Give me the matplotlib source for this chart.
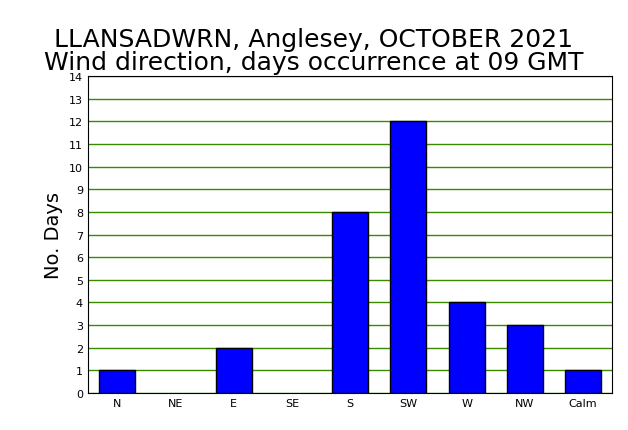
import matplotlib
matplotlib.use("Agg")
import matplotlib.pyplot as plt

categories = ["N", "NE", "E", "SE", "S", "SW", "W", "NW", "Calm"]
days = [1, 0, 2, 0, 8, 12, 4, 3, 1]
yticks = list(range(0, 15))

fig = plt.figure(figsize=(6.28, 4.31), dpi=100)
ax = fig.add_axes([0.140, 0.086, 0.835, 0.735])
ax.set_axisbelow(True)
ax.yaxis.grid(True, color="#3a8a00", linewidth=1)
xs = [i for i, d in enumerate(days) if d > 0]
ax.bar(xs, [days[i] for i in xs], width=0.62, color="#0000ff", edgecolor="black", linewidth=1)
ax.set_xlim(-0.5, len(categories) - 0.5)
ax.set_ylim(0, 14)
ax.set_yticks(yticks)
ax.set_xticks(range(len(categories)))
ax.set_xticklabels(categories)
ax.tick_params(labelsize=8, length=0)
for s in ax.spines.values():
    s.set_color("black")
ax.set_ylabel("No. Days", fontsize=14)
fig.text(0.5, 0.825, "LLANSADWRN, Anglesey, OCTOBER 2021\nWind direction, days occurrence at 09 GMT",
         ha="center", va="bottom", fontsize=18, linespacing=0.95)
fig.savefig("out.png", dpi=100)
